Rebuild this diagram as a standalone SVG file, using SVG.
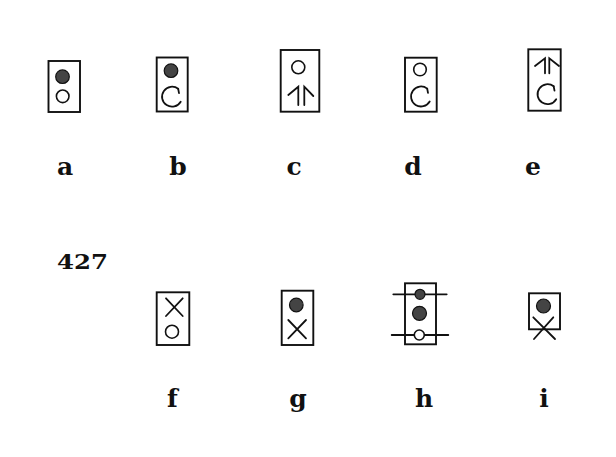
<svg xmlns="http://www.w3.org/2000/svg" xmlns:xlink="http://www.w3.org/1999/xlink" width="616" height="457" viewBox="0 0 616 457">
<style>
.box{fill:none;stroke:#111;stroke-width:1.9}
.dot{fill:#444;stroke:#111;stroke-width:1.2}
.open{fill:none;stroke:#111;stroke-width:1.6}
.ln{fill:none;stroke:#111;stroke-width:1.8;stroke-linecap:round}
.lbl{font-family:"DejaVu Serif",serif;font-weight:bold;font-size:25px;fill:#111;text-anchor:middle}
.num{font-family:"DejaVu Serif",serif;font-weight:bold;font-size:21px;fill:#111}
</style>
<defs>
<g id="cee">
<path class="ln" d="M 6.2 -7.9 A 10 10 0 1 0 8.7 5"/>
<path class="ln" d="M 6.2 -7.9 L 7 -3.6"/>
</g>
</defs>
<rect width="616" height="457" fill="#fff"/>
<g id="node-a">
<rect class="box" x="48.5" y="61" width="31.5" height="51"/>
<circle class="dot" cx="62.5" cy="76.7" r="6.8"/>
<circle class="open" cx="62.7" cy="96.3" r="6.3"/>
</g>
<g id="node-b">
<rect class="box" x="156.7" y="57.5" width="31" height="54"/>
<circle class="dot" cx="171" cy="70.7" r="6.8"/>
<use xlink:href="#cee" x="172" y="96.7"/>
</g>
<g id="node-c">
<rect class="box" x="280.7" y="50" width="38.6" height="61.7"/>
<circle class="open" cx="298.3" cy="67.3" r="6.5"/>
<path class="ln" d="M 298.3 105 V 86.7 L 288.3 95 M 304.3 105 V 86.7 L 313.3 96"/>
</g>
<g id="node-d">
<rect class="box" x="405" y="57.7" width="31.7" height="54"/>
<circle class="open" cx="420" cy="69.5" r="6.3"/>
<use xlink:href="#cee" x="421" y="96.5"/>
</g>
<g id="node-e">
<rect class="box" x="528.3" y="49.3" width="32.4" height="61.4"/>
<path class="ln" d="M 545 73.3 V 58.3 L 535 66 M 549.3 73.3 V 58.3 L 559 66"/>
<use xlink:href="#cee" x="547.5" y="94.2"/>
</g>
<g id="node-f">
<rect class="box" x="156.7" y="292.3" width="32.6" height="52.7"/>
<path class="ln" d="M 166 298.3 L 182.7 316 M 182.7 298.3 L 166 316"/>
<circle class="open" cx="172" cy="331.7" r="6.5"/>
</g>
<g id="node-g">
<rect class="box" x="281.7" y="290.7" width="31.6" height="54.3"/>
<circle class="dot" cx="296.3" cy="305" r="6.8"/>
<path class="ln" d="M 288.3 320 L 306 338.3 M 306 320 L 288.3 338.3"/>
</g>
<g id="node-h">
<rect class="box" x="405" y="283.3" width="31" height="61"/>
<path class="ln" d="M 393.3 294.3 H 446.7 M 391.7 335 H 448.3"/>
<circle class="dot" cx="420" cy="294.3" r="5"/>
<circle class="dot" cx="419.5" cy="313.3" r="7"/>
<circle cx="419.3" cy="335" r="5" fill="#fff" stroke="#111" stroke-width="1.6"/>
</g>
<g id="node-i">
<rect class="box" x="529" y="293.3" width="31" height="36"/>
<circle class="dot" cx="543.5" cy="306" r="7"/>
<path class="ln" d="M 533.3 317.3 L 555 339 M 553.3 317.3 L 534 339"/>
</g>
<g id="connectors"></g>
<g id="labels">
<text class="lbl" x="65" y="175">a</text>
<text class="lbl" x="178" y="175">b</text>
<text class="lbl" x="294" y="175">c</text>
<text class="lbl" x="413" y="175">d</text>
<text class="lbl" x="533" y="175">e</text>
<text class="num" x="57" y="268.5" textLength="51" lengthAdjust="spacingAndGlyphs">427</text>
<text class="lbl" x="172.5" y="407">f</text>
<text class="lbl" x="298" y="407">g</text>
<text class="lbl" x="424" y="407">h</text>
<text class="lbl" x="544" y="407">i</text>
</g>
</svg>
